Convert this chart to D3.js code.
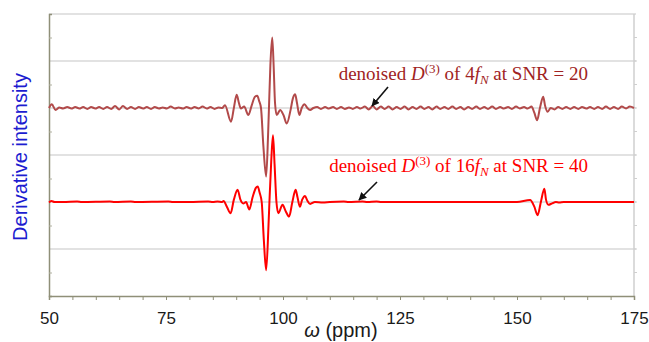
<!DOCTYPE html>
<html><head><meta charset="utf-8">
<script src="https://cdn.jsdelivr.net/npm/d3@7"></script>
<style>body{margin:0;background:#fff}svg{display:block}</style>
</head><body>
<script>
// ---- data ----
const xTicks = [50, 75, 100, 125, 150, 175];
const upperPpm = [50.0,50.6,51.4,52.2,53.0,53.9,54.8,55.6,56.5,57.3,58.2,59.0,59.9,60.7,61.6,62.4,63.3,64.1,65.0,65.8,66.7,67.5,68.4,69.2,70.1,70.9,71.8,72.6,73.5,74.3,75.2,76.0,76.9,77.7,78.6,79.4,80.3,81.1,82.0,82.8,83.7,84.5,85.4,86.2,87.0,
 87.6,88.9,89.5,90.1,90.6,91.0,91.7,92.6,93.3,94.0,94.5,94.9,95.3,95.8,96.4,96.8,97.0,97.3,97.7,98.0,98.3,98.65,99.4,100.1,100.8,101.6,102.1,102.6,103.0,103.5,104.0,104.6,105.2,105.8,106.5,
 107.3,108.1,109.0,109.8,110.7,111.5,112.4,113.2,114.1,114.9,115.8,116.6,117.5,118.3,119.2,120.0,120.9,121.7,122.6,123.4,124.3,125.1,126.0,126.8,127.7,128.5,129.4,130.2,131.1,131.9,132.8,133.6,134.5,135.3,136.2,137.0,137.9,138.7,139.6,140.4,141.3,142.1,143.0,143.8,144.7,145.5,146.4,147.2,148.1,148.9,149.8,150.6,151.5,152.3,153.1,
 153.7,154.3,154.9,155.6,156.0,156.55,157.2,158.0,158.8,159.7,160.5,161.4,162.2,163.1,163.9,164.8,165.6,166.5,167.3,168.2,169.0,169.9,170.7,171.6,172.4,173.3,174.1,175.0];
const upperVal = [0.00,0.08,-0.04,0.01,-0.01,0.02,-0.01,0.02,-0.01,0.02,-0.02,0.02,-0.01,0.02,-0.02,0.02,-0.02,0.04,-0.03,0.04,-0.02,0.02,-0.02,0.02,-0.01,0.02,-0.02,0.02,-0.01,0.01,-0.01,0.03,-0.01,0.01,-0.01,0.02,-0.01,0.02,-0.01,0.03,-0.01,0.02,-0.02,0.01,0.00,
 0.06,-0.29,0.00,0.28,0.10,-0.01,0.03,-0.15,0.05,0.24,0.26,0.15,0.00,-0.80,-1.46,-0.60,0.00,0.90,1.50,0.90,0.10,-0.15,-0.04,-0.15,-0.33,-0.05,0.20,0.29,0.10,-0.15,0.00,0.08,0.00,-0.04,0.00,
 0.02,-0.02,0.02,-0.01,0.02,-0.02,0.02,-0.02,0.01,-0.02,0.02,-0.01,0.03,-0.03,0.04,-0.03,0.03,-0.02,0.03,-0.03,0.02,-0.02,0.03,-0.03,0.02,-0.02,0.03,-0.02,0.02,-0.03,0.03,-0.02,0.02,-0.02,0.03,-0.02,0.02,-0.03,0.02,-0.02,0.03,-0.02,0.02,-0.02,0.03,-0.02,0.02,-0.01,0.02,-0.02,0.03,-0.01,0.02,-0.01,0.03,
 -0.10,-0.26,0.00,0.24,0.05,-0.08,0.00,-0.03,0.02,-0.02,0.02,-0.02,0.02,-0.02,0.02,-0.01,0.02,-0.02,0.02,-0.02,0.03,-0.02,0.02,-0.02,0.03,-0.01,0.03,0.00];
const lowerPpm = [50.0,50.5,51.2,53.0,56.0,57.0,63.0,64.0,67.5,68.5,75.5,76.5,80.0,84.0,85.0,86.0,87.0,
 87.3,88.0,88.8,89.5,90.3,90.9,91.5,92.1,92.8,93.5,94.2,94.6,95.0,95.45,95.9,96.4,96.9,97.1,97.5,97.86,98.2,98.6,99.0,99.9,100.6,101.3,102.0,102.7,103.1,103.6,104.1,104.7,105.2,105.8,106.8,
 108.5,110.0,113.0,114.0,117.0,118.0,120.0,121.0,124.0,140.0,145.0,150.0,152.8,153.7,154.4,155.1,155.85,156.2,156.7,157.5,158.3,159.0,160.0,175.0];
const lowerVal = [-0.01,0.02,0.00,0.00,0.01,0.00,0.01,0.00,0.01,0.00,0.01,0.00,0.00,0.01,0.00,0.01,0.00,
 0.02,-0.10,-0.24,0.05,0.26,0.05,-0.03,0.00,-0.16,0.10,0.30,0.33,0.20,0.00,-0.80,-1.45,-0.50,0.00,0.90,1.42,0.80,0.00,-0.24,-0.06,-0.20,-0.31,0.00,0.26,0.10,-0.10,0.05,0.13,0.03,-0.04,0.00,
 -0.01,0.00,0.01,0.00,0.01,0.00,0.01,0.00,0.00,0.00,0.00,0.00,0.04,-0.10,-0.28,0.00,0.28,0.05,-0.06,-0.03,0.00,-0.01,0.00,0.00];
const upperOffset = 4, lowerOffset = 2;

// ---- layout ----
const W = 649, H = 342;
const m = {left: 49, right: 15, top: 14, bottom: 46};
const svg = d3.select("body").append("svg").attr("width", W).attr("height", H);
const x = d3.scaleLinear().domain([50, 175]).range([m.left, W - m.right]);
const y = d3.scaleLinear().domain([0, 6]).range([H - m.bottom, m.top]);

// gridlines
svg.append("g").selectAll("line").data(d3.range(1, 7)).join("line")
  .attr("x1", x(50)).attr("x2", x(175) + 2).attr("y1", d => y(d)).attr("y2", d => y(d))
  .attr("stroke", "#d9d9d9").attr("stroke-width", 1.5);
// right border
svg.append("line").attr("x1", x(175)).attr("x2", x(175)).attr("y1", y(6)).attr("y2", y(0))
  .attr("stroke", "#cfcfcf").attr("stroke-width", 1.5);
svg.append("g").selectAll("line").data(d3.range(0.5, 6, 0.5)).join("line")
  .attr("x1", x(175)).attr("x2", x(175) + 3).attr("y1", d => y(d)).attr("y2", d => y(d))
  .attr("stroke", "#cfcfcf");

// left axis (ticks only, no labels)
const yAxis = d3.axisLeft(y).tickValues(d3.range(0.5, 6, 1)).tickSize(-3).tickFormat("");
const gy = svg.append("g").attr("transform", `translate(${m.left},0)`).call(yAxis);
gy.select(".domain").attr("stroke", "#8f8f78").attr("stroke-width", 1.5);
gy.selectAll(".tick line").attr("stroke", "#b0b0a0");

// bottom axis
const xMinor = d3.axisBottom(x).tickValues(d3.range(50, 176, 5)).tickSize(4).tickFormat("");
const gxm = svg.append("g").attr("transform", `translate(0,${y(0)})`).call(xMinor);
gxm.select(".domain").attr("stroke", "#8f8f78").attr("stroke-width", 1.5);
gxm.selectAll(".tick line").attr("stroke", "#8f8f78");
const xAxis = d3.axisBottom(x).tickValues(xTicks).tickSize(0).tickPadding(16);
const gx = svg.append("g").attr("transform", `translate(0,${y(0)})`).call(xAxis);
gx.select(".domain").remove();
gx.selectAll("text").attr("font-family", "Liberation Sans, Arial, sans-serif").attr("font-size", 17).attr("fill", "#1a1a1a");

// traces
const line = d3.line().curve(d3.curveMonotoneX);
const upperPts = upperPpm.map((p, i) => [x(p), y(upperOffset + upperVal[i])]);
const lowerPts = lowerPpm.map((p, i) => [x(p), y(lowerOffset + lowerVal[i])]);
svg.append("path").attr("d", line(upperPts)).attr("fill", "none").attr("stroke", "#b24a4a").attr("stroke-width", 2).attr("stroke-linejoin", "round");
svg.append("path").attr("d", line(lowerPts)).attr("fill", "none").attr("stroke", "#ff0000").attr("stroke-width", 2).attr("stroke-linejoin", "round");

// annotations
function label(yb, color, mult, snr) {
  const t = svg.append("text").attr("x", 588).attr("y", yb).attr("text-anchor", "end")
    .attr("font-family", "Liberation Serif, Times New Roman, serif").attr("font-size", 19).attr("fill", color);
  t.append("tspan").text("denoised ");
  t.append("tspan").attr("font-style", "italic").text("D");
  t.append("tspan").attr("font-size", 13).attr("dy", -7).text("(3)");
  t.append("tspan").attr("dy", 7).text(" of " + mult);
  t.append("tspan").attr("font-style", "italic").text("f");
  t.append("tspan").attr("font-style", "italic").attr("font-size", 13).attr("dy", 4).text("N");
  t.append("tspan").attr("dy", -4).text(" at SNR = " + snr);
}
label(80, "#a02323", "4", "20");
label(172, "#ff0000", "16", "40");

svg.append("defs").append("marker").attr("id", "ah").attr("viewBox", "0 0 10 10")
  .attr("refX", 9).attr("refY", 5).attr("markerWidth", 5).attr("markerHeight", 5).attr("orient", "auto")
  .append("path").attr("d", "M0,0L10,5L0,10z").attr("fill", "#111");
function arrow(x1, y1, x2, y2) {
  svg.append("line").attr("x1", x1).attr("y1", y1).attr("x2", x2).attr("y2", y2)
    .attr("stroke", "#111").attr("stroke-width", 1.6).attr("marker-end", "url(#ah)");
}
arrow(388, 87, 372, 106);
arrow(377, 182, 359, 200);

// axis titles
svg.append("text").attr("transform", "translate(26.5,157) rotate(-90)").attr("text-anchor", "middle")
  .attr("font-family", "Liberation Sans, Arial, sans-serif").attr("font-size", 20).attr("fill", "#1c1cd0")
  .text("Derivative intensity");
const xt = svg.append("text").attr("x", 341).attr("y", 337).attr("text-anchor", "middle")
  .attr("font-family", "Liberation Sans, Arial, sans-serif").attr("font-size", 20).attr("fill", "#1a1a1a");
xt.append("tspan").attr("font-style", "italic").text("ω");
xt.append("tspan").text(" (ppm)");
</script>
</body></html>
